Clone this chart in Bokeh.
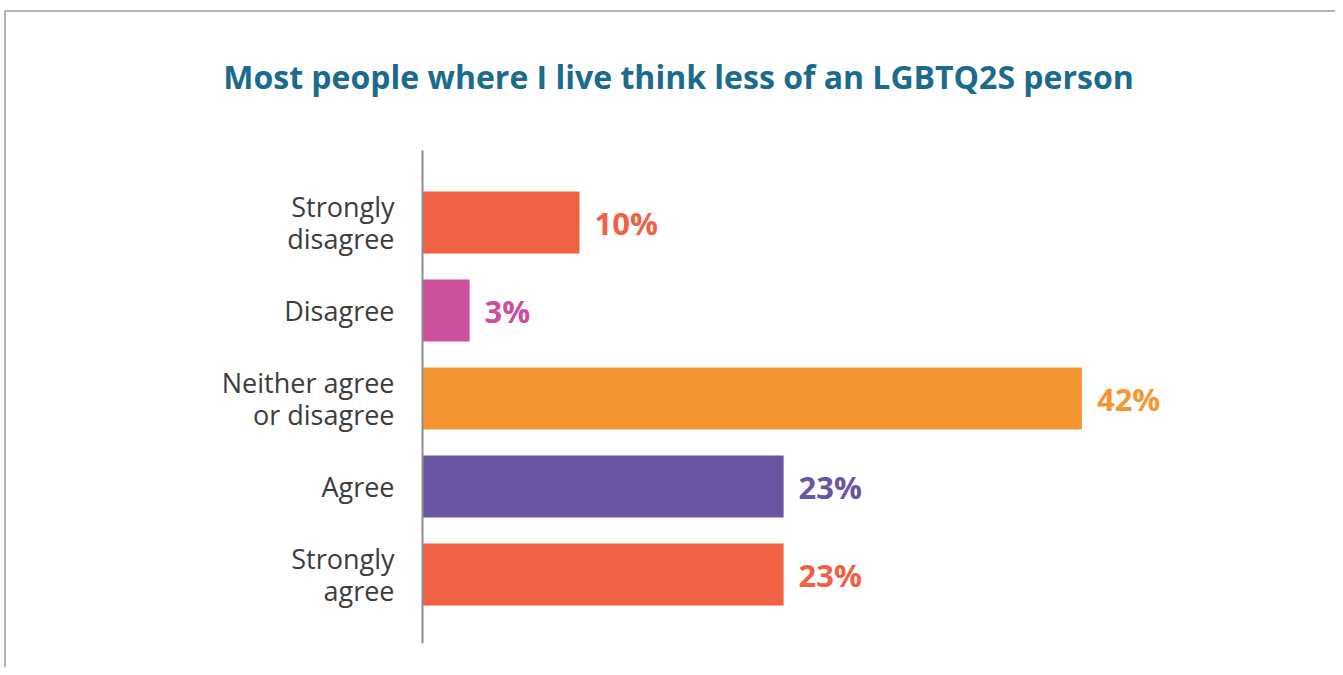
from bokeh.plotting import figure
from bokeh.models import ColumnDataSource, Range1d, Label
from bokeh.core.properties import value
from bokeh.embed import file_html
from bokeh.resources import INLINE

# ---- data ----
categories = ["Strongly\ndisagree", "Disagree", "Neither agree\nor disagree", "Agree", "Strongly\nagree"]
percents = [10, 3, 42, 23, 23]
colors = ["#EE6243", "#CC4F9D", "#F59632", "#6B54A2", "#EE6243"]
title_text = "Most people where I live think less of an LGBTQ2S person"

W, H = 1335, 667
px_per_pct = 15.7
px_per_cat = 88.0
x0_px = 422.0        # pixel position of the 0% axis
y0_px = 222.0        # pixel position of first category center

x_start = -x0_px / px_per_pct
x_end = x_start + W / px_per_pct
y_top = -y0_px / px_per_cat
y_bottom = y_top + H / px_per_cat

p = figure(width=W, height=H, output_backend="svg", toolbar_location=None,
           x_range=Range1d(x_start, x_end), y_range=Range1d(y_bottom, y_top),
           min_border=0, min_border_left=0, min_border_right=0,
           min_border_top=0, min_border_bottom=0)
p.axis.visible = False
p.grid.visible = False
p.outline_line_color = None
p.background_fill_color = "white"
p.border_fill_color = "white"

idx = list(range(len(categories)))
src = ColumnDataSource(dict(y=idx, v=percents, c=colors, cat=categories,
                            lab=[f"{v}%" for v in percents], zero=[0] * len(idx)))

# bars
p.hbar(y="y", left=0, right="v", height=62 / px_per_cat, color="c", line_color=None, source=src)

# axis line
p.segment(x0=[0], y0=[-0.82], x1=[0], y1=[len(idx) - 1 + 0.78], line_color="#8C8C8C", line_width=2)

# value labels
p.text(x="v", y="y", text="lab", text_color="c", x_offset=15, y_offset=0,
       text_align="left", text_baseline="middle",
       text_font=value("Open Sans"), text_font_style="bold", text_font_size="31px", source=src)

# category labels
p.text(x="zero", y="y", text="cat", text_color="#3C3C3C", x_offset=-28,
       text_align="right", text_baseline="middle", text_line_height=0.88,
       text_font=value("Open Sans"), text_font_size="27px", source=src)

# title
p.add_layout(Label(x=(678 - x0_px) / px_per_pct, y=y_top + 76 / px_per_cat, text=title_text,
                   text_align="center", text_baseline="middle", text_color="#1C6B8C",
                   text_font="Open Sans", text_font_style="bold", text_font_size="32px"))

# frame border (gray lines top and left)
p.segment(x0=[x_start + 4 / px_per_pct], y0=[y_top + 10.5 / px_per_cat], x1=[x_end], y1=[y_top + 10.5 / px_per_cat],
          line_color="#B3B3B3", line_width=2)
p.segment(x0=[x_start + 4.5 / px_per_pct], y0=[y_top + 10.5 / px_per_cat], x1=[x_start + 4.5 / px_per_pct],
          y1=[y_bottom], line_color="#B3B3B3", line_width=2)

open("out.html", "w").write(file_html(p, INLINE))
